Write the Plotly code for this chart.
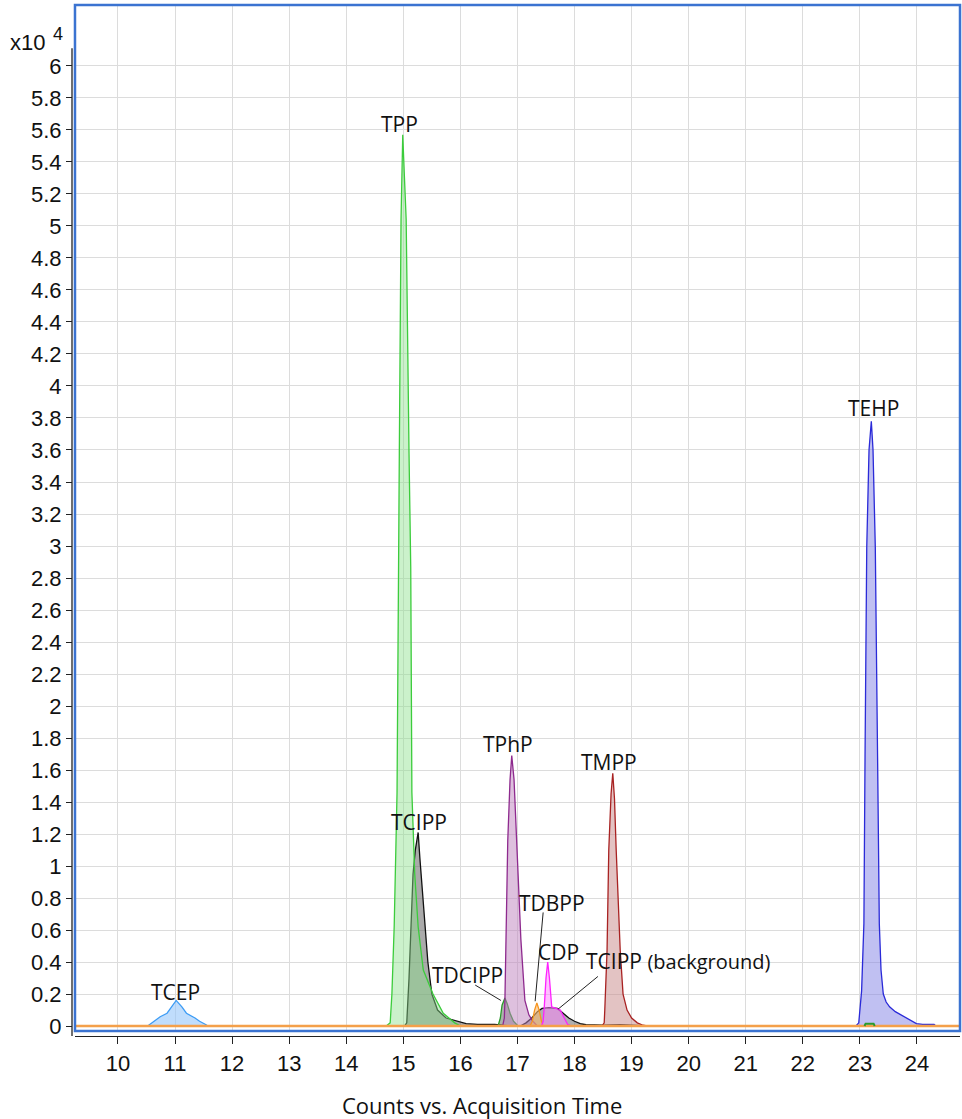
import plotly.graph_objects as go

# ---------------- data (retention time in min, counts in units of 10^4) ----------------
tcep_time = [10.52, 10.56, 10.65, 10.74, 10.86, 10.94, 11.02, 11.12, 11.20, 11.35, 11.43, 11.56, 11.60]
tcep_counts = [0, 0.01, 0.035, 0.058, 0.08, 0.12, 0.16, 0.12, 0.08, 0.05, 0.03, 0.005, 0]

tpp_time = [14.70, 14.77, 14.80, 14.84, 14.89, 14.91, 14.93, 14.96, 14.99, 15.02, 15.05, 15.10,
            15.13, 15.15, 15.20, 15.26, 15.35, 15.52, 15.70, 15.90, 16.00]
tpp_counts = [0, 0.02, 0.2, 0.62, 1.46, 2.87, 3.58, 5.04, 5.57, 5.30, 5.04, 3.58,
              2.87, 1.46, 0.95, 0.62, 0.35, 0.2, 0.08, 0.02, 0]

tcipp_time = [15.02, 15.06, 15.10, 15.13, 15.17, 15.21, 15.26, 15.29, 15.33, 15.38, 15.43, 15.50,
              15.60, 15.75, 15.95, 16.10, 16.30, 16.60, 16.90]
tcipp_counts = [0, 0.02, 0.3, 0.62, 0.95, 1.10, 1.21, 1.05, 0.85, 0.62, 0.40, 0.20,
                0.10, 0.05, 0.03, 0.015, 0.01, 0.01, 0]

tdcipp_time = [16.66, 16.70, 16.73, 16.78, 16.82, 16.87, 16.93, 17.01]
tdcipp_counts = [0, 0.05, 0.13, 0.175, 0.14, 0.08, 0.03, 0]

tphp_time = [16.74, 16.77, 16.78, 16.80, 16.83, 16.87, 16.90, 16.94, 16.99, 17.06, 17.13, 17.20, 17.27, 17.35]
tphp_counts = [0, 0.05, 0.16, 0.54, 1.16, 1.54, 1.69, 1.54, 1.16, 0.54, 0.16, 0.07, 0.03, 0]

tdbpp_time = [17.22, 17.26, 17.30, 17.34, 17.38, 17.42, 17.46]
tdbpp_counts = [0, 0.03, 0.10, 0.145, 0.10, 0.03, 0]

cdp_time = [17.42, 17.45, 17.47, 17.50, 17.53, 17.56, 17.60, 17.66, 17.75, 17.82, 17.88, 17.95]
cdp_counts = [0, 0.03, 0.12, 0.30, 0.40, 0.30, 0.12, 0.11, 0.10, 0.05, 0.01, 0]

tcipp_bg_time = [17.05, 17.15, 17.25, 17.35, 17.43, 17.55, 17.70, 17.80, 17.90, 18.00, 18.10, 18.20,
                 18.30, 18.50, 18.80, 19.10, 19.40]
tcipp_bg_counts = [0, 0.02, 0.05, 0.09, 0.11, 0.115, 0.11, 0.08, 0.05, 0.03, 0.015, 0.008,
                   0.006, 0.006, 0.008, 0.006, 0]

tmpp_time = [18.48, 18.52, 18.53, 18.57, 18.60, 18.64, 18.67, 18.70, 18.73, 18.80, 18.85, 18.92,
             19.00, 19.10, 19.20, 19.30]
tmpp_counts = [0, 0.02, 0.10, 0.475, 1.10, 1.45, 1.58, 1.42, 1.10, 0.475, 0.20, 0.10,
               0.05, 0.02, 0.005, 0]

tehp_time = [22.93, 22.98, 23.03, 23.07, 23.09, 23.12, 23.16, 23.20, 23.23, 23.27, 23.31, 23.34,
             23.37, 23.41, 23.46, 23.52, 23.62, 23.72, 23.81, 23.90, 23.99, 24.10, 24.30, 24.33]
tehp_counts = [0, 0.02, 0.22, 0.64, 1.68, 2.99, 3.60, 3.78, 3.60, 2.99, 1.68, 0.64,
               0.35, 0.20, 0.15, 0.12, 0.09, 0.07, 0.05, 0.03, 0.015, 0.01, 0.01, 0]

minor_green_time = [23.08, 23.10, 23.24, 23.26]
minor_green_counts = [0, 0.015, 0.015, 0]

baseline_time = [9.25, 24.75]
baseline_counts = [0, 0]

x_ticks = list(range(10, 25))
y_tick_vals = [round(0.2 * i, 1) for i in range(31)]
y_tick_text = ["0", "0.2", "0.4", "0.6", "0.8", "1", "1.2", "1.4", "1.6", "1.8", "2",
               "2.2", "2.4", "2.6", "2.8", "3", "3.2", "3.4", "3.6", "3.8", "4",
               "4.2", "4.4", "4.6", "4.8", "5", "5.2", "5.4", "5.6", "5.8", "6"]

# ---------------- figure ----------------
series = [
    (tcep_time, tcep_counts, "#3d9cf5", "rgba(150,198,250,0.6)"),
    (tcipp_time, tcipp_counts, "#111111", "rgba(100,100,100,0.55)"),
    (tpp_time, tpp_counts, "#3ccc3c", "rgba(140,225,140,0.45)"),
    (tcipp_bg_time, tcipp_bg_counts, "#111111", "rgba(110,110,110,0.55)"),
    (tdcipp_time, tdcipp_counts, "#2a9a2a", "rgba(105,115,105,0.55)"),
    (tphp_time, tphp_counts, "#8e2a8e", "rgba(190,130,190,0.5)"),
    (tdbpp_time, tdbpp_counts, "#f7941d", "rgba(250,185,110,0.6)"),
    (cdp_time, cdp_counts, "#ff22ff", "rgba(255,130,255,0.5)"),
    (tmpp_time, tmpp_counts, "#a82222", "rgba(200,135,135,0.5)"),
    (tehp_time, tehp_counts, "#2a2ad8", "rgba(130,130,230,0.5)"),
]

fig = go.Figure()
for xs, ys, lc, fc in series:
    fig.add_trace(go.Scatter(x=xs, y=ys, mode="lines", fill="tozeroy",
                             line=dict(color=lc, width=1.3), fillcolor=fc,
                             hoverinfo="skip", showlegend=False))

fig.add_trace(go.Scatter(x=baseline_time, y=baseline_counts, mode="lines",
                         line=dict(color="#f4a04a", width=2.5),
                         hoverinfo="skip", showlegend=False))
fig.add_trace(go.Scatter(x=minor_green_time, y=minor_green_counts, mode="lines",
                         line=dict(color="#2a9a2a", width=2),
                         hoverinfo="skip", showlegend=False))

label_font = dict(family="Open Sans", size=21, color="#111111")
labels = [
    ("TPP", 14.94, 5.64), ("TCEP", 11.0, 0.21), ("TCIPP", 15.27, 1.275),
    ("TPhP", 16.83, 1.76), ("TMPP", 18.60, 1.65), ("TEHP", 23.23, 3.86),
    ("TDBPP", 17.60, 0.77), ("CDP", 17.72, 0.46), ("TDCIPP", 16.13, 0.32),
]
annotations = []
for txt, x, y in labels:
    annotations.append(dict(x=x, y=y, xref="x", yref="y", text=txt, showarrow=False,
                            xanchor="center", yanchor="middle", font=label_font))
annotations.append(dict(x=18.17, y=0.405, xref="x", yref="y",
                        text="TCIPP <span style='font-size:20px'>(background)</span>",
                        showarrow=False, xanchor="left", yanchor="middle", font=label_font))
annotations.append(dict(x=-0.0757, y=0.964, xref="x domain", yref="paper",
                        text="x10", showarrow=False, xanchor="left",
                        yanchor="middle", font=dict(family="Liberation Sans", size=22, color="#111111")))
annotations.append(dict(x=-0.0275, y=0.972, xref="x domain", yref="paper",
                        text="4", showarrow=False, xanchor="left",
                        yanchor="middle", font=dict(family="Liberation Sans", size=18, color="#111111")))
annotations.append(dict(x=0.46, y=-0.05, xref="x domain", yref="paper",
                        text="Counts vs. Acquisition Time", showarrow=False,
                        xanchor="center", yanchor="top",
                        font=dict(family="Open Sans", size=22, color="#111111")))

shapes = [
    dict(type="line", xref="x", yref="y", x0=16.26, y0=0.256, x1=16.71, y1=0.16,
         line=dict(color="#222222", width=1)),
    dict(type="line", xref="x", yref="y", x0=17.45, y0=0.71, x1=17.31, y1=0.155,
         line=dict(color="#222222", width=1)),
    dict(type="line", xref="x", yref="y", x0=18.41, y0=0.31, x1=17.71, y1=0.105,
         line=dict(color="#222222", width=1)),
    dict(type="rect", xref="x domain", yref="y domain", x0=0, y0=0, x1=1, y1=1,
         line=dict(color="#3b73d1", width=2.5), layer="above"),
    dict(type="line", xref="paper", yref="paper", x0=0.00225, y0=0, x1=0.00225, y1=0.958,
         line=dict(color="#222222", width=1.3)),
]

fig.update_layout(
    width=962, height=1119,
    margin=dict(l=70, r=2, t=5, b=83, autoexpand=False),
    paper_bgcolor="white", plot_bgcolor="white",
    showlegend=False,
    annotations=annotations, shapes=shapes,
    xaxis=dict(range=[9.247, 24.754], domain=[0.0056, 1], anchor="free", position=0,
               automargin=False,
               tickvals=x_ticks, ticks="outside", ticklen=7, tickcolor="#222222",
               showline=True, linecolor="#222222", linewidth=1.3,
               showgrid=True, gridcolor="#dcdcdc", gridwidth=1, zeroline=False,
               tickfont=dict(family="Liberation Sans", size=22, color="#111111")),
    yaxis=dict(range=[-0.031, 6.381], domain=[0.00485, 1], anchor="free", position=0.00225,
               automargin=False,
               tickvals=y_tick_vals, ticktext=y_tick_text, ticks="outside", ticklen=6,
               tickcolor="#222222", showline=False,
               showgrid=True, gridcolor="#dcdcdc", gridwidth=1, zeroline=False,
               tickfont=dict(family="Liberation Sans", size=22, color="#111111")),
)

fig.write_html("out.html", config={"displayModeBar": False},
               post_script="document.body.style.margin='0';document.body.style.overflow='hidden';")
